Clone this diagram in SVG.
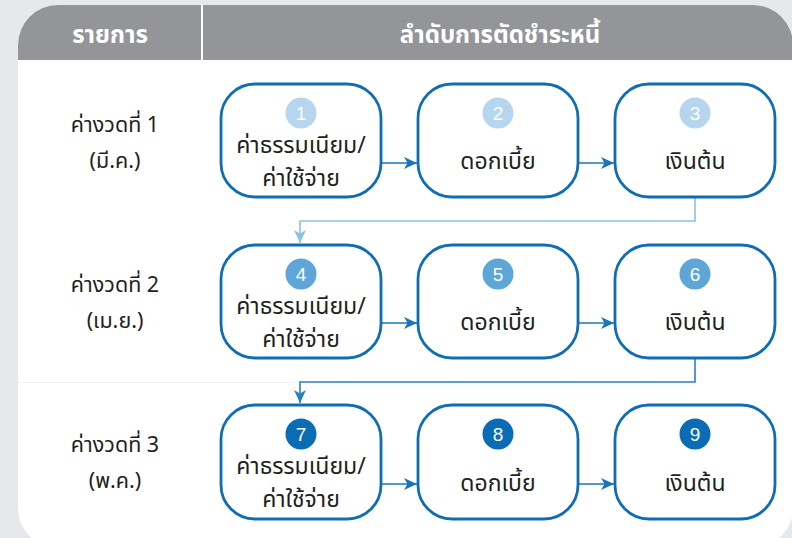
<svg xmlns="http://www.w3.org/2000/svg" width="792" height="538" viewBox="0 0 792 538">
<style>
.t{font-family:"Noto Sans Thai","Noto Sans Thai UI","Noto Sans","DejaVu Sans",sans-serif;fill:#231f20;text-anchor:middle}
.lbl{font-size:21.5px}
.box{fill:#ffffff;stroke:#0f6db5;stroke-width:2.8}
.num{font-family:"Liberation Sans","Noto Sans",sans-serif;font-size:19px;fill:#ffffff;text-anchor:middle}
.bt{font-size:23px}
.hd{font-family:"Noto Sans Thai","Noto Sans",sans-serif;font-size:24px;font-weight:bold;fill:#ffffff;text-anchor:middle}
.arr{fill:none;stroke:#1a74ba;stroke-width:1.6}
</style>
<defs>
<clipPath id="pc"><rect x="18" y="5" width="775" height="543" rx="40" ry="40"/></clipPath>
<marker id="ah" markerWidth="14" markerHeight="12" refX="13" refY="6" orient="auto" markerUnits="userSpaceOnUse"><path d="M0,0 L13,6 L0,12 L3.5,6 Z" fill="#1a74ba"/></marker>
<marker id="ahl" markerWidth="14" markerHeight="12" refX="13" refY="6" orient="auto" markerUnits="userSpaceOnUse"><path d="M0,0 L13,6 L0,12 L3.5,6 Z" fill="#8fc1e5"/></marker>
<marker id="ahm" markerWidth="14" markerHeight="12" refX="13" refY="6" orient="auto" markerUnits="userSpaceOnUse"><path d="M0,0 L13,6 L0,12 L3.5,6 Z" fill="#2a7fc2"/></marker>
</defs>
<rect x="0" y="0" width="792" height="538" fill="#e7e8ea"/>
<g id="panel" clip-path="url(#pc)">
<rect x="18" y="5" width="775" height="543" fill="#ffffff"/>
<rect x="18" y="5" width="775" height="55" fill="#939598"/>
<rect x="201" y="5" width="2" height="55" fill="#ffffff"/>
<line x1="18" y1="382.5" x2="300" y2="382.5" stroke="#f1f2f3" stroke-width="1"/>
</g>
<g id="header">
<text class="hd" x="110" y="43">รายการ</text>
<text class="hd" x="500" y="43">ลำดับการตัดชำระหนี้</text>
</g>
<g id="labels">
<text class="t lbl" x="115" y="132">ค่างวดที่ 1</text>
<text class="t lbl" x="115" y="168">(มี.ค.)</text>
<text class="t lbl" x="115" y="292">ค่างวดที่ 2</text>
<text class="t lbl" x="115" y="328">(เม.ย.)</text>
<text class="t lbl" x="115" y="452">ค่างวดที่ 3</text>
<text class="t lbl" x="115" y="488">(พ.ค.)</text>
</g>
<g id="connectors">
<line class="arr" x1="382" y1="163" x2="417" y2="163" marker-end="url(#ah)"/>
<line class="arr" x1="579" y1="163" x2="614" y2="163" marker-end="url(#ah)"/>
<line class="arr" x1="382" y1="323" x2="417" y2="323" marker-end="url(#ah)"/>
<line class="arr" x1="579" y1="323" x2="614" y2="323" marker-end="url(#ah)"/>
<line class="arr" x1="382" y1="484" x2="417" y2="484" marker-end="url(#ah)"/>
<line class="arr" x1="579" y1="484" x2="614" y2="484" marker-end="url(#ah)"/>
<path d="M695 198 V221 H300 V243" fill="none" stroke="#8fc1e5" stroke-width="1.6" marker-end="url(#ahl)"/>
<path d="M695 359 V382 H300 V403" fill="none" stroke="#2a7fc2" stroke-width="1.6" marker-end="url(#ahm)"/>
</g>
<g id="n1"><rect class="box" x="221" y="84" width="160" height="113" rx="34"/><circle cx="301" cy="113" r="15.5" fill="#b5d6ee"/><text class="num" x="301" y="120">1</text><text class="t bt" x="301" y="153">ค่าธรรมเนียม/</text><text class="t bt" x="301" y="186">ค่าใช้จ่าย</text></g>
<g id="n2"><rect class="box" x="418" y="84" width="160" height="113" rx="34"/><circle cx="498" cy="113" r="15.5" fill="#b5d6ee"/><text class="num" x="498" y="120">2</text><text class="t bt" x="498" y="169">ดอกเบี้ย</text></g>
<g id="n3"><rect class="box" x="615" y="84" width="160" height="113" rx="34"/><circle cx="695" cy="113" r="15.5" fill="#b5d6ee"/><text class="num" x="695" y="120">3</text><text class="t bt" x="695" y="169">เงินต้น</text></g>
<g id="n4"><rect class="box" x="221" y="245" width="160" height="113" rx="34"/><circle cx="301" cy="274" r="15.5" fill="#5ea5d8"/><text class="num" x="301" y="281">4</text><text class="t bt" x="301" y="314">ค่าธรรมเนียม/</text><text class="t bt" x="301" y="347">ค่าใช้จ่าย</text></g>
<g id="n5"><rect class="box" x="418" y="245" width="160" height="113" rx="34"/><circle cx="498" cy="274" r="15.5" fill="#5ea5d8"/><text class="num" x="498" y="281">5</text><text class="t bt" x="498" y="330">ดอกเบี้ย</text></g>
<g id="n6"><rect class="box" x="615" y="245" width="160" height="113" rx="34"/><circle cx="695" cy="274" r="15.5" fill="#5ea5d8"/><text class="num" x="695" y="281">6</text><text class="t bt" x="695" y="330">เงินต้น</text></g>
<g id="n7"><rect class="box" x="221" y="405" width="160" height="114" rx="34"/><circle cx="301" cy="434" r="15.5" fill="#0a6cb5"/><text class="num" x="301" y="441">7</text><text class="t bt" x="301" y="474">ค่าธรรมเนียม/</text><text class="t bt" x="301" y="507">ค่าใช้จ่าย</text></g>
<g id="n8"><rect class="box" x="418" y="405" width="160" height="114" rx="34"/><circle cx="498" cy="434" r="15.5" fill="#0a6cb5"/><text class="num" x="498" y="441">8</text><text class="t bt" x="498" y="491">ดอกเบี้ย</text></g>
<g id="n9"><rect class="box" x="615" y="405" width="160" height="114" rx="34"/><circle cx="695" cy="434" r="15.5" fill="#0a6cb5"/><text class="num" x="695" y="441">9</text><text class="t bt" x="695" y="491">เงินต้น</text></g>
</svg>
